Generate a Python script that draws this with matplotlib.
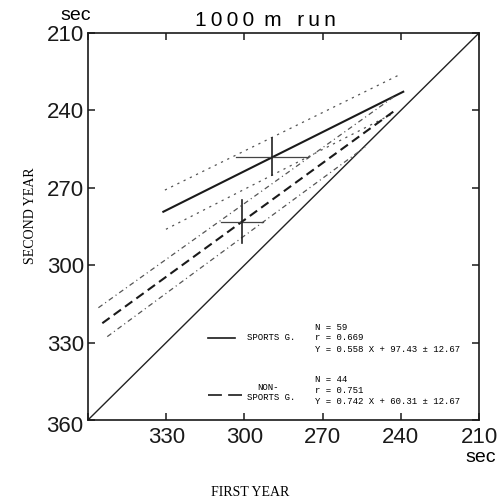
import matplotlib
matplotlib.use("Agg")
import matplotlib.pyplot as plt
import matplotlib.ticker as ticker

# Axis ticks (seconds); the shared corner label 360 is drawn only once
tick_values = [360, 330, 300, 270, 240, 210]
x_tick_labels = ["", "330", "300", "270", "240", "210"]
y_tick_labels = ["", "330", "300", "270", "240", "210"]

# Regression line of each group as (first year, second year) end points
sports_line_x = [331.1, 239.1]
sports_line_y = [279.3, 232.8]
sports_upper_x = [330.5, 240.1]
sports_upper_y = [270.9, 226.0]
sports_lower_x = [330.1, 243.5]
sports_lower_y = [286.1, 241.5]

nonsports_line_x = [354.5, 242.2]
nonsports_line_y = [322.5, 240.0]
nonsports_upper_x = [356.0, 242.2]
nonsports_upper_y = [316.5, 234.4]
nonsports_lower_x = [352.6, 253.7]
nonsports_lower_y = [327.7, 254.2]

# Group means and standard deviations (cross marks)
sports_mean = (289.4, 257.9)
sports_sd = (13.8, 7.2)
nonsports_mean = (301.0, 283.1)
nonsports_sd = (8.1, 8.5)

sports_stats = ["N = 59", "r = 0.669", "Y = 0.558 X + 97.43 \u00b1 12.67"]
nonsports_stats = ["N = 44", "r = 0.751", "Y = 0.742 X + 60.31 \u00b1 12.67"]

plt.rcParams["lines.scale_dashes"] = False
mono = "Liberation Mono"
serif = "Liberation Serif"
sans = ["Liberation Sans", "DejaVu Sans"]

fig = plt.figure(figsize=(4.97, 5.04), dpi=100)
ax = fig.add_axes([0.177, 0.1667, 0.787, 0.768])

# Line of identity
ax.plot([360, 210], [360, 210], color="#222222", lw=1.0)

# Sports group
ax.plot(sports_line_x, sports_line_y, color="#1a1a1a", lw=1.5)
ax.plot(sports_upper_x, sports_upper_y, color="#555555", lw=0.9, dashes=(1.6, 3.4))
ax.plot(sports_lower_x, sports_lower_y, color="#555555", lw=0.9, dashes=(1.6, 3.4))

# Non-sports group
ax.plot(nonsports_line_x, nonsports_line_y, color="#1a1a1a", lw=1.5, dashes=(6.5, 3.6))
ax.plot(nonsports_upper_x, nonsports_upper_y, color="#555555", lw=0.9,
        dashes=(3.6, 2.4, 0.8, 2.4))
ax.plot(nonsports_lower_x, nonsports_lower_y, color="#555555", lw=0.9,
        dashes=(3.6, 2.4, 0.8, 2.4))

# Mean +/- SD crosses
for mean, sd in [(sports_mean, sports_sd), (nonsports_mean, nonsports_sd)]:
    ax.plot([mean[0] - sd[0], mean[0] + sd[0]], [mean[1], mean[1]], color="#444444", lw=0.9)
    ax.plot([mean[0], mean[0]], [mean[1] - sd[1], mean[1] + sd[1]], color="#222222", lw=1.2)

ax.set_xlim(360, 210)
ax.set_ylim(360, 210)
ax.xaxis.set_major_locator(ticker.FixedLocator(tick_values))
ax.yaxis.set_major_locator(ticker.FixedLocator(tick_values))
ax.set_xticklabels(x_tick_labels)
ax.set_yticklabels(y_tick_labels)
ax.tick_params(which="major", direction="in", length=5, width=1.1,
               top=True, right=True, labelsize=16, colors="#1a1a1a")
ax.tick_params(axis="x", pad=5)
ax.tick_params(axis="y", pad=2.5)
for lab in ax.get_xticklabels() + ax.get_yticklabels():
    lab.set_fontfamily(sans)
for spine in ax.spines.values():
    spine.set_linewidth(1.2)
    spine.set_color("#1a1a1a")

# Shared corner label
fig.text(83 / 497, 1 - 427 / 504, "360", fontsize=16, family=sans,
         ha="right", va="center", color="#1a1a1a")

# Legend drawn by hand, as in the original figure
ax.plot([0.307, 0.376], [0.212, 0.212], transform=ax.transAxes, color="#1a1a1a", lw=1.2)
ax.plot([0.307, 0.394], [0.0646, 0.0646], transform=ax.transAxes, color="#1a1a1a",
        lw=1.2, dashes=(10, 4.5))
ax.text(0.407, 0.212, "SPORTS G.", transform=ax.transAxes, fontsize=6.5,
        family=mono, va="center", ha="left")
ax.text(0.433, 0.0835, "NON-", transform=ax.transAxes, fontsize=6.5,
        family=mono, va="center", ha="left")
ax.text(0.407, 0.057, "SPORTS G.", transform=ax.transAxes, fontsize=6.5,
        family=mono, va="center", ha="left")
for line, y in zip(sports_stats, [0.240, 0.212, 0.181]):
    ax.text(0.58, y, line, transform=ax.transAxes, fontsize=6.5,
            family=mono, va="center", ha="left")
for line, y in zip(nonsports_stats, [0.1034, 0.0749, 0.0473]):
    ax.text(0.58, y, line, transform=ax.transAxes, fontsize=6.5,
            family=mono, va="center", ha="left")

# Titles and units (title letters spaced out as in the original)
fig.text(265 / 497, 1 - 21 / 504, "1\u20090\u20090\u20090\u2009 m\u2009  r\u2009u\u2009n",
         fontsize=15, family=sans, ha="center", va="center")
fig.text(76 / 497, 1 - 15 / 504, "sec", fontsize=14, family=sans, ha="center", va="center")
fig.text(481 / 497, 1 - 458 / 504, "sec", fontsize=14, family=sans, ha="center", va="center")
fig.text(31 / 497, 1 - 216 / 504, "SECOND YEAR", fontsize=10, family=serif,
         rotation=90, ha="center", va="center")
fig.text(250 / 497, 1 - 492 / 504, "FIRST YEAR", fontsize=10, family=serif,
         ha="center", va="center")

fig.savefig("out.png", dpi=100)
